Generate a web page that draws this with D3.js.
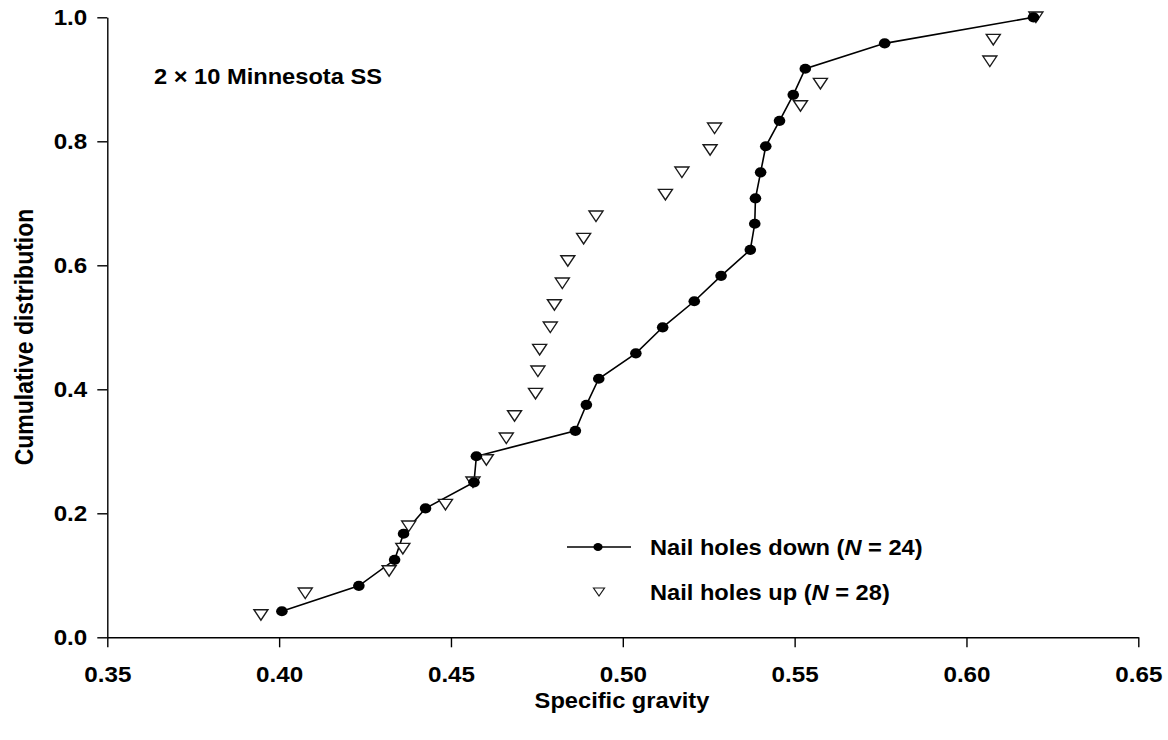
<!DOCTYPE html>
<html>
<head>
<meta charset="utf-8">
<script src="https://cdn.jsdelivr.net/npm/d3@7"></script>
<style>
  body { margin: 0; background: #fff; }
  text { font-family: "Liberation Sans", Arial, Helvetica, sans-serif; font-weight: bold; fill: #000; }
</style>
</head>
<body>
<svg id="chart" width="1168" height="740"></svg>
<script>
// Specific gravity of each specimen, sorted, with its cumulative fraction
const downSG = [0.4008, 0.4232, 0.4336, 0.4362, 0.4426, 0.4567, 0.4574, 0.4862,
                0.4894, 0.4930, 0.5038, 0.5116, 0.5208, 0.5286, 0.5371, 0.5384,
                0.5386, 0.5401, 0.5416, 0.5456, 0.5496, 0.5531, 0.5762, 0.6195];
const downCum = [0.042, 0.083, 0.125, 0.167, 0.208, 0.250, 0.292, 0.333,
                 0.375, 0.417, 0.458, 0.500, 0.542, 0.583, 0.625, 0.667,
                 0.708, 0.750, 0.792, 0.833, 0.875, 0.917, 0.958, 1.000];

const upSG = [0.3947, 0.4076, 0.4320, 0.4360, 0.4377, 0.4484, 0.4564, 0.4603,
              0.4661, 0.4685, 0.4746, 0.4753, 0.4758, 0.4789, 0.4801, 0.4824,
              0.4840, 0.4886, 0.4922, 0.5124, 0.5172, 0.5254, 0.5267, 0.5517,
              0.5575, 0.6068, 0.6078, 0.6202];
const upCum = [0.036, 0.071, 0.107, 0.143, 0.179, 0.214, 0.250, 0.286,
               0.321, 0.357, 0.393, 0.429, 0.464, 0.500, 0.536, 0.571,
               0.607, 0.643, 0.679, 0.714, 0.750, 0.786, 0.821, 0.857,
               0.893, 0.929, 0.964, 1.000];

const xTicks = [0.35, 0.40, 0.45, 0.50, 0.55, 0.60, 0.65];
const yTicks = [0.0, 0.2, 0.4, 0.6, 0.8, 1.0];

const panelTitle = "2 × 10 Minnesota SS";
const xTitle = "Specific gravity";
const yTitle = "Cumulative distribution";
const legendItems = [
  { name: "Nail holes down (", n: 24, kind: "down" },
  { name: "Nail holes up (", n: 28, kind: "up" }
];

const svg = d3.select("#chart");
const SX = 1.1; // glyphs are drawn slightly wide

const x = d3.scaleLinear().domain([0.35, 0.65]).range([107.3, 1138.3]);
const y = d3.scaleLinear().domain([0, 1]).range([637.3, 17.3]);

// axes
const xAxis = svg.append("g")
  .attr("transform", `translate(0,${y(0)})`)
  .call(d3.axisBottom(x).tickValues(xTicks).tickSize(10).tickSizeOuter(0)
    .tickPadding(19).tickFormat(d3.format(".2f")));
const yAxis = svg.append("g")
  .attr("transform", `translate(${x(0.35)},0)`)
  .call(d3.axisLeft(y).tickValues(yTicks).tickSize(10).tickSizeOuter(0)
    .tickPadding(10).tickFormat(d3.format(".1f")));

[xAxis, yAxis].forEach(g => {
  g.select(".domain").attr("stroke", "#000").attr("stroke-width", 1.4);
  g.selectAll(".tick line").attr("stroke", "#000").attr("stroke-width", 1.4);
  g.selectAll(".tick text").attr("fill", "#000").attr("font-size", 22)
    .style("font-family", "'Liberation Sans', Arial, sans-serif").style("font-weight", "bold");
});
xAxis.selectAll(".tick text").attr("transform", `scale(${SX},1)`);
yAxis.selectAll(".tick text").attr("x", -20 / SX).attr("dy", "0.34em")
  .attr("transform", `scale(${SX},1)`);

// helper for horizontally stretched labels
function label(px, py, str, size, anchor) {
  const t = svg.append("g").attr("transform", `translate(${px},${py})`)
    .append("text").attr("transform", `scale(${SX},1)`)
    .attr("font-size", size).attr("text-anchor", anchor || "start");
  if (str != null) t.text(str);
  return t;
}

label(154, 84, panelTitle, 21.5);
label(622, 708, xTitle, 21.5, "middle");
svg.append("text")
  .attr("transform", `translate(33,337) scale(${SX},1) rotate(-90)`)
  .attr("font-size", 23).attr("text-anchor", "middle").text(yTitle);

// symbol shapes
const tri = (w, h) => `M${-w / 2},${-h / 2}L${w / 2},${-h / 2}L0,${h / 2}Z`;

// nail holes down: connected line with filled dots
const line = d3.line().x(d => x(d[0])).y(d => y(d[1]));
const downPts = downSG.map((v, i) => [v, downCum[i]]);
svg.append("path").datum(downPts).attr("d", line)
  .attr("fill", "none").attr("stroke", "#000").attr("stroke-width", 1.6);

// nail holes up: open down-pointing triangles
const upPts = upSG.map((v, i) => [v, upCum[i]]);
svg.append("g").selectAll("path").data(upPts).join("path")
  .attr("transform", d => `translate(${x(d[0])},${y(d[1])})`)
  .attr("d", tri(14, 10.5))
  .attr("fill", "#fff").attr("stroke", "#1a1a1a").attr("stroke-width", 1.4);

svg.append("g").selectAll("ellipse").data(downPts).join("ellipse")
  .attr("cx", d => x(d[0])).attr("cy", d => y(d[1]))
  .attr("rx", 5.8).attr("ry", 5.1).attr("fill", "#000");

// legend
const legY = [547, 592];
legendItems.forEach((it, i) => {
  const ly = legY[i];
  if (it.kind === "down") {
    svg.append("line").attr("x1", 567).attr("x2", 631).attr("y1", ly).attr("y2", ly)
      .attr("stroke", "#000").attr("stroke-width", 1.4);
    svg.append("ellipse").attr("cx", 598).attr("cy", ly).attr("rx", 4.6).attr("ry", 4).attr("fill", "#000");
  } else {
    svg.append("path").attr("transform", `translate(599,${ly})`).attr("d", tri(11, 8))
      .attr("fill", "#fff").attr("stroke", "#1a1a1a").attr("stroke-width", 1.2);
  }
  const t = label(650, ly + 8, null, 21.5);
  t.append("tspan").text(it.name);
  t.append("tspan").attr("font-style", "italic").text("N");
  t.append("tspan").text(` = ${it.n})`);
});
</script>
</body>
</html>
